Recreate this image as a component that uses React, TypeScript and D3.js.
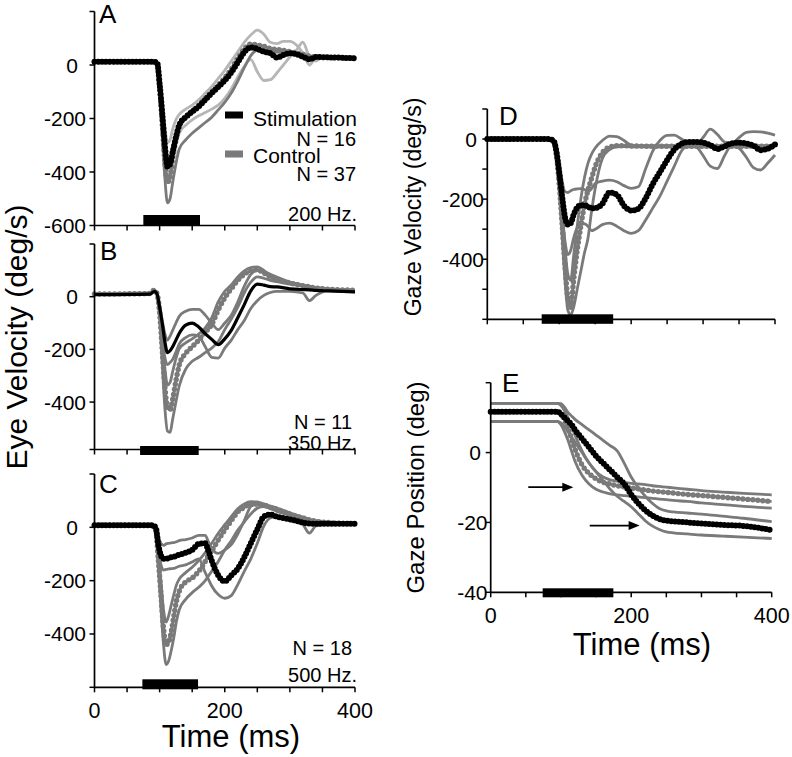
import React from 'react';
import * as d3 from 'd3';

const FONT = '"Liberation Sans", Arial, Helvetica, sans-serif';

// ---------- Panel A (200 Hz) ----------
const aT = [0, 90, 96, 100, 104, 108, 112, 116, 120, 125, 130, 140, 150, 160, 170, 180, 190, 200, 210, 220, 230, 240, 250, 260, 270, 280, 290, 300, 310, 320, 330, 340, 350, 370, 400];
const aStim = [12, 12, 10, -70, -180, -300, -380, -370, -325, -270, -225, -195, -175, -155, -130, -105, -82, -58, -28, 10, 48, 66, 60, 50, 44, 28, 37, 44, 40, 31, 21, 30, 29, 28, 25];
const aStimHi = [14, 14, 12, -50, -130, -230, -290, -280, -240, -205, -185, -165, -150, -130, -105, -80, -50, -20, 15, 50, 85, 112, 130, 115, 85, 80, 88, 88, 75, 45, 0, 28, 30, 28, 26];
const aStimLo = [12, 12, 8, -75, -200, -340, -420, -410, -360, -300, -255, -225, -205, -190, -178, -165, -150, -125, -90, -45, -5, 20, -25, -58, -55, -30, 0, 30, 55, 85, 30, 15, 28, 27, 25];
const aCtrl = [12, 12, 8, -80, -220, -360, -440, -420, -350, -280, -230, -195, -172, -150, -125, -100, -75, -48, -15, 25, 60, 78, 75, 70, 62, 58, 55, 50, 45, 40, 33, 30, 28, 27, 25];
const aCtrlLo = [10, 10, 5, -90, -260, -420, -515, -500, -440, -370, -315, -280, -255, -235, -215, -195, -168, -140, -105, -60, -10, 35, 55, 55, 50, 48, 47, 45, 40, 35, 30, 28, 27, 26, 24];

// ---------- Panel B (350 Hz) ----------
const bT = [0, 85, 92, 96, 100, 104, 108, 112, 116, 120, 125, 130, 140, 150, 160, 170, 180, 190, 200, 210, 220, 230, 240, 250, 260, 270, 280, 300, 320, 330, 340, 360, 380, 400];
const bStim = [8, 10, 20, 10, -40, -100, -170, -212, -205, -190, -165, -140, -108, -100, -115, -140, -162, -182, -160, -128, -80, -30, 22, 48, 44, 38, 37, 30, 27, 26, 24, 22, 20, 18];
const bStimHi = [10, 12, 22, 12, -30, -90, -140, -165, -150, -128, -100, -75, -55, -48, -48, -70, -100, -125, -100, -70, -20, 40, 85, 100, 95, 85, 75, 55, 40, 33, 30, 26, 23, 20];
const bStimLo = [8, 10, 20, 8, -60, -150, -230, -258, -250, -238, -210, -180, -155, -145, -150, -190, -230, -233, -195, -165, -125, -90, -45, -15, 5, 16, 20, 20, 14, -15, 5, 22, 20, 18];
const bCtrl = [10, 12, 25, 12, -60, -200, -340, -420, -430, -390, -320, -260, -215, -190, -165, -135, -105, -50, -5, 30, 62, 85, 98, 102, 90, 75, 65, 52, 42, 38, 33, 28, 26, 24];
const bCtrlHi = [12, 14, 24, 12, -50, -160, -270, -335, -325, -285, -235, -198, -175, -160, -142, -118, -80, -20, 20, 45, 75, 98, 110, 113, 100, 80, 70, 55, 44, 40, 35, 30, 27, 24];
const bCtrlLo = [8, 10, 22, 8, -80, -250, -420, -510, -515, -465, -400, -340, -275, -245, -230, -212, -195, -170, -125, -85, -40, 15, 55, 75, 70, 62, 57, 48, 40, 35, 31, 27, 24, 22];

// ---------- Panel C (500 Hz) ----------
const cT = [0, 88, 94, 98, 102, 106, 110, 114, 118, 122, 126, 130, 140, 150, 160, 170, 175, 180, 190, 200, 210, 220, 230, 240, 250, 260, 270, 280, 300, 320, 330, 340, 360, 380, 400];
const cStim = [8, 8, 0, -65, -105, -118, -118, -115, -112, -110, -106, -103, -95, -85, -62, -60, -90, -125, -180, -203, -180, -155, -112, -60, -8, 40, 48, 40, 30, 18, 14, 13, 13, 13, 13];
const cStimHi = [10, 10, 2, -35, -60, -68, -62, -60, -58, -57, -54, -50, -46, -40, -30, -30, -55, -80, -98, -85, -65, -25, 25, 78, 88, 80, 70, 60, 45, 28, 22, 20, 18, 16, 15];
const cStimLo = [6, 6, -5, -80, -140, -160, -158, -156, -155, -154, -150, -146, -141, -130, -118, -170, -195, -220, -252, -266, -256, -215, -165, -118, -60, 5, 35, 40, 30, 10, -22, 5, 12, 12, 12];
const cCtrl = [8, 8, -10, -120, -250, -380, -440, -430, -390, -330, -275, -240, -205, -190, -165, -128, -105, -88, -48, -10, 25, 58, 75, 87, 87, 84, 75, 68, 50, 35, 28, 23, 18, 15, 14];
const cCtrlHi = [10, 10, -5, -90, -200, -310, -355, -330, -290, -250, -215, -195, -170, -150, -125, -95, -78, -60, -22, 10, 40, 70, 88, 96, 95, 88, 80, 72, 54, 38, 30, 25, 20, 16, 15];
const cCtrlLo = [6, 6, -15, -150, -300, -440, -515, -500, -460, -410, -350, -310, -270, -245, -225, -200, -182, -165, -128, -85, -50, -10, 20, 50, 72, 78, 72, 65, 48, 33, 27, 22, 17, 15, 14];

// ---------- Panel D (gaze velocity) ----------
const dT = [0, 85, 92, 96, 100, 104, 108, 112, 116, 120, 125, 130, 135, 140, 145, 150, 160, 170, 180, 190, 200, 210, 220, 230, 240, 250, 260, 270, 280, 290, 300, 310, 320, 330, 340, 350, 360, 370, 380, 390, 400];
const dStim = [0, 0, -5, -40, -110, -190, -260, -285, -280, -252, -228, -220, -220, -225, -230, -230, -215, -178, -185, -222, -238, -232, -198, -150, -110, -70, -35, -16, -10, -10, -12, -20, -33, -24, -14, -12, -15, -22, -37, -32, -18];
const dStimHi = [2, 2, -3, -30, -80, -140, -175, -178, -172, -168, -166, -165, -168, -175, -165, -148, -140, -137, -142, -155, -164, -159, -100, -40, -5, 12, 13, 0, -15, -20, 5, 33, 15, -10, -15, 5, 22, 25, 24, 20, 13];
const dStimLo = [-2, -2, -8, -50, -140, -250, -340, -385, -370, -330, -295, -283, -282, -290, -305, -300, -285, -280, -290, -305, -314, -305, -270, -230, -190, -140, -90, -40, -20, -25, -55, -90, -98, -55, -20, -30, -60, -95, -103, -80, -53];
const dCtrl = [0, 0, -5, -50, -150, -280, -420, -530, -560, -470, -370, -290, -220, -170, -130, -92, -45, -27, -22, -22, -23, -23, -24, -24, -24, -24, -24, -24, -24, -24, -24, -24, -24, -24, -24, -24, -24, -24, -24, -24, -24];
const dCtrlHi = [2, 2, -3, -40, -120, -230, -360, -450, -470, -390, -290, -200, -130, -80, -50, -30, -5, 10, 8, -5, -20, -22, -22, -22, -22, -22, -22, -22, -22, -22, -22, -22, -22, -22, -22, -22, -22, -22, -22, -22, -22];
const dCtrlLo = [-2, -2, -8, -60, -170, -320, -470, -570, -585, -560, -500, -440, -380, -330, -240, -165, -65, -35, -26, -25, -26, -26, -26, -26, -26, -26, -26, -26, -26, -26, -26, -26, -26, -26, -26, -26, -26, -26, -26, -26, -26];

// ---------- Panel E (gaze position) ----------
const eT = [0, 95, 100, 105, 110, 115, 120, 130, 140, 150, 160, 170, 180, 190, 200, 210, 220, 230, 240, 250, 260, 280, 300, 330, 360, 400];
const eStim = [11.7, 11.7, 11, 10, 9, 8, 6.5, 4, 1.5, -1, -3, -5, -7, -9, -12, -14.5, -16.5, -18, -19, -19.5, -19.7, -20, -20.3, -20.7, -21, -22.2];
const eStimHi = [14.1, 14.1, 14, 13, 11.5, 10.5, 9.5, 8, 6.5, 5, 3.5, 2, 0.5, -3, -7, -10, -12.5, -14.5, -16, -16.7, -17, -17.3, -17.6, -18.2, -18.8, -19.8];
const eStimLo = [8.9, 8.9, 8.5, 7.5, 6, 4.5, 3, 0, -3, -5.5, -8, -10.5, -12.5, -14, -15.5, -17.5, -19.5, -21, -22, -22.7, -23, -23.3, -23.6, -23.9, -24.2, -24.6];
const eCtrl = [11.7, 11.7, 11, 9.5, 7, 4, 1, -3.5, -6, -7.5, -8.5, -9, -9.5, -9.8, -10.1, -10.4, -10.7, -11, -11.2, -11.4, -11.6, -12, -12.3, -12.8, -13.3, -14];
const eCtrlHi = [14.1, 14.1, 13.5, 12, 10, 7.5, 5, 0.5, -3, -5.5, -7, -7.8, -8.2, -8.5, -8.8, -9, -9.2, -9.5, -9.7, -9.9, -10.1, -10.5, -10.9, -11.3, -11.7, -12.1];
const eCtrlLo = [8.9, 8.9, 8, 6, 3.5, 0.5, -2.5, -6.5, -9, -10.5, -11.3, -11.8, -12.1, -12.3, -12.5, -12.7, -12.9, -13.1, -13.3, -13.5, -13.7, -14, -14.4, -14.9, -15.4, -15.9];
// arrows in E: [t0, t1, value]
const eArrows = [[53.5, 117.6, -9.9], [141, 212, -20.9]];

// Stimulation bars (ms)
const stimA = [75, 162];
const stimB = [70, 160];
const stimC = [73.5, 159];
const stimD = [75.6, 175];
const stimE = [74, 174.6];

const xTicks = [0, 50, 100, 150, 200, 250, 300, 350, 400];
const xTickLabels = [0, 200, 400];

const GRAY = '#7a7a7a';
const LIGHT = '#b6b6b6';

type Series = { v: number[]; kind: 'sd' | 'light' | 'ctrl' | 'stim' | 'stimSolid' };

type PanelProps = {
  t: number[];
  series: Series[];
  x: d3.ScaleLinear<number, number>;
  y: d3.ScaleLinear<number, number>;
  yTicks: number[];
  yLabels: number[];
  yLabelEnd: number;
  yZeroEnd: number;
  stim: number[];
  barTop: number;
  barH: number;
  showXLabels: boolean;
  letter: string;
  letterX: number;
  letterY: number;
};

function Panel(p: PanelProps) {
  const { x, y, t } = p;
  const [d0, d1] = y.domain();
  const yBot = y(d0);
  const yTop = y(d1);
  const x0 = x(0);
  const x1 = x(400);
  const mk = (vs: number[]) =>
    d3
      .line<number>()
      .x((_, i) => x(t[i]))
      .y((d) => y(d))
      .curve(d3.curveMonotoneX)(vs) || '';
  const order = { light: 0, sd: 1, ctrl: 2, stimSolid: 3, stim: 4 } as const;
  const sorted = [...p.series].sort((a, b) => order[a.kind] - order[b.kind]);
  return (
    <g>
      {sorted.map((s, i) => {
        const d = mk(s.v);
        if (s.kind === 'sd' || s.kind === 'light')
          return <path key={i} d={d} fill="none" stroke={s.kind === 'sd' ? GRAY : LIGHT} strokeWidth={2.8} />;
        if (s.kind === 'ctrl')
          return (
            <g key={i}>
              <path d={d} fill="none" stroke={GRAY} strokeWidth={2.6} />
              <path d={d} fill="none" stroke={GRAY} strokeWidth={5.4} strokeDasharray="0 5" strokeLinecap="round" />
            </g>
          );
        if (s.kind === 'stimSolid') return <path key={i} d={d} fill="none" stroke="#000" strokeWidth={3.2} />;
        return (
          <g key={i}>
            <path d={d} fill="none" stroke="#000" strokeWidth={3.4} />
            <path d={d} fill="none" stroke="#000" strokeWidth={6} strokeDasharray="0 3.8" strokeLinecap="round" />
          </g>
        );
      })}
      {/* axes */}
      <line x1={x0} x2={x0} y1={yTop} y2={yBot} stroke="#000" strokeWidth={1.7} />
      <line x1={x0} x2={x1} y1={yBot} y2={yBot} stroke="#000" strokeWidth={1.7} />
      {p.yTicks.map((v) => (
        <line key={'yt' + v} x1={x0 - 5} x2={x0} y1={y(v)} y2={y(v)} stroke="#000" strokeWidth={1.5} />
      ))}
      {p.yLabels.map((v) => (
        <text
          key={'yl' + v}
          x={v === 0 ? p.yZeroEnd : p.yLabelEnd}
          y={y(v) + 7.5}
          textAnchor="end"
          fontSize={21}
          fontFamily={FONT}
        >
          {v}
        </text>
      ))}
      {xTicks.map((v) => (
        <line key={'xt' + v} x1={x(v)} x2={x(v)} y1={yBot} y2={yBot + 5} stroke="#000" strokeWidth={1.5} />
      ))}
      {p.showXLabels &&
        xTickLabels.map((v) => (
          <text key={'xl' + v} x={x(v)} y={yBot + 30.5} textAnchor="middle" fontSize={21.5} fontFamily={FONT}>
            {v}
          </text>
        ))}
      <rect x={x(p.stim[0])} width={x(p.stim[1]) - x(p.stim[0])} y={yBot + p.barTop} height={p.barH} fill="#000" />
      <text x={p.letterX} y={p.letterY} fontSize={26} fontFamily={FONT}>
        {p.letter}
      </text>
    </g>
  );
}

export default function App() {
  const xL = d3.scaleLinear().domain([0, 400]).range([94.5, 355]);
  const xD = d3.scaleLinear().domain([0, 400]).range([487.3, 775]);
  const xE = d3.scaleLinear().domain([0, 400]).range([490.7, 771.7]);
  const yA = d3.scaleLinear().domain([-600, 200]).range([225.5, 11.5]);
  const yB = d3.scaleLinear().domain([-580, 200]).range([449.5, 244]);
  const yC = d3.scaleLinear().domain([-600, 200]).range([687.3, 474]);
  const yD = d3.scaleLinear().domain([-600, 100]).range([319.3, 109]);
  const yE = d3.scaleLinear().domain([-40, 20]).range([592.3, 382.7]);

  const tsize = 20;
  return (
    <svg width={792} height={757} style={{ position: 'absolute', left: 0, top: 0, background: '#fff' }}>
      <rect width={792} height={757} fill="#fff" />
      <Panel
        t={aT}
        series={[
          { v: aStimHi, kind: 'light' },
          { v: aStimLo, kind: 'light' },
          { v: aCtrlLo, kind: 'sd' },
          { v: aCtrl, kind: 'ctrl' },
          { v: aStim, kind: 'stim' },
        ]}
        x={xL}
        y={yA}
        yTicks={[200, 0, -200, -400, -600]}
        yLabels={[0, -200, -400, -600]}
        yLabelEnd={86}
        yZeroEnd={78}
        stim={stimA}
        barTop={-10.5}
        barH={11}
        showXLabels={false}
        letter="A"
        letterX={99}
        letterY={23}
      />
      <Panel
        t={bT}
        series={[
          { v: bStimHi, kind: 'sd' },
          { v: bStimLo, kind: 'sd' },
          { v: bCtrlHi, kind: 'sd' },
          { v: bCtrlLo, kind: 'sd' },
          { v: bCtrl, kind: 'ctrl' },
          { v: bStim, kind: 'stimSolid' },
        ]}
        x={xL}
        y={yB}
        yTicks={[200, 0, -200, -400, -580]}
        yLabels={[0, -200, -400]}
        yLabelEnd={86}
        yZeroEnd={78}
        stim={stimB}
        barTop={-3.5}
        barH={9}
        showXLabels={false}
        letter="B"
        letterX={100}
        letterY={260}
      />
      <Panel
        t={cT}
        series={[
          { v: cStimHi, kind: 'sd' },
          { v: cStimLo, kind: 'sd' },
          { v: cCtrlHi, kind: 'sd' },
          { v: cCtrlLo, kind: 'sd' },
          { v: cCtrl, kind: 'ctrl' },
          { v: cStim, kind: 'stim' },
        ]}
        x={xL}
        y={yC}
        yTicks={[200, 0, -200, -400, -600]}
        yLabels={[0, -200, -400]}
        yLabelEnd={86}
        yZeroEnd={78}
        stim={stimC}
        barTop={-8}
        barH={10}
        showXLabels={true}
        letter="C"
        letterX={99}
        letterY={493}
      />
      <Panel
        t={dT}
        series={[
          { v: dStimHi, kind: 'sd' },
          { v: dStimLo, kind: 'sd' },
          { v: dCtrlHi, kind: 'sd' },
          { v: dCtrlLo, kind: 'sd' },
          { v: dCtrl, kind: 'ctrl' },
          { v: dStim, kind: 'stim' },
        ]}
        x={xD}
        y={yD}
        yTicks={[100, 0, -100, -200, -300, -400, -500, -600]}
        yLabels={[0, -200, -400]}
        yLabelEnd={484}
        yZeroEnd={477}
        stim={stimD}
        barTop={-5}
        barH={9.5}
        showXLabels={false}
        letter="D"
        letterX={499}
        letterY={125}
      />
      <Panel
        t={eT}
        series={[
          { v: eStimHi, kind: 'sd' },
          { v: eStimLo, kind: 'sd' },
          { v: eCtrlHi, kind: 'sd' },
          { v: eCtrlLo, kind: 'sd' },
          { v: eCtrl, kind: 'ctrl' },
          { v: eStim, kind: 'stim' },
        ]}
        x={xE}
        y={yE}
        yTicks={[20, 0, -20, -40]}
        yLabels={[0, -20, -40]}
        yLabelEnd={487.5}
        yZeroEnd={481}
        stim={stimE}
        barTop={-4}
        barH={9}
        showXLabels={true}
        letter="E"
        letterX={502}
        letterY={392}
      />

      {/* arrows in E */}
      {eArrows.map(([t0, t1, v], i) => {
        const xa = xE(t0);
        const xb = xE(t1);
        const yy = yE(v);
        return (
          <g key={'ar' + i}>
            <line x1={xa} x2={xb - 8} y1={yy} y2={yy} stroke="#000" strokeWidth={1.7} />
            <polygon points={`${xb},${yy} ${xb - 11},${yy - 4.5} ${xb - 11},${yy + 4.5}`} fill="#000" />
          </g>
        );
      })}

      {/* Legend and annotations in A */}
      <rect x={225} y={111.5} width={18} height={7} fill="#000" />
      <text x={253} y={125.5} fontSize={21} fontFamily={FONT}>Stimulation</text>
      <text x={356} y={145.5} textAnchor="end" fontSize={tsize} fontFamily={FONT}>N = 16</text>
      <rect x={225} y={150.5} width={18} height={7} fill={GRAY} />
      <text x={253} y={162.5} fontSize={21} fontFamily={FONT}>Control</text>
      <text x={356} y={180.5} textAnchor="end" fontSize={tsize} fontFamily={FONT}>N = 37</text>
      <text x={357} y={221} textAnchor="end" fontSize={tsize} fontFamily={FONT}>200 Hz.</text>

      <text x={352} y={429} textAnchor="end" fontSize={tsize} fontFamily={FONT}>N = 11</text>
      <text x={357} y={450} textAnchor="end" fontSize={tsize} fontFamily={FONT}>350 Hz.</text>
      <text x={352} y={655} textAnchor="end" fontSize={tsize} fontFamily={FONT}>N = 18</text>
      <text x={357} y={681.5} textAnchor="end" fontSize={tsize} fontFamily={FONT}>500 Hz.</text>

      {/* axis titles */}
      <text transform="translate(27,337) rotate(-90)" textAnchor="middle" fontSize={30} fontFamily={FONT}>
        Eye Velocity (deg/s)
      </text>
      <text transform="translate(421,207) rotate(-90)" textAnchor="middle" fontSize={23} fontFamily={FONT}>
        Gaze Velocity (deg/s)
      </text>
      <text transform="translate(424,487.5) rotate(-90)" textAnchor="middle" fontSize={24} fontFamily={FONT}>
        Gaze Position (deg)
      </text>
      <text x={231} y={747} textAnchor="middle" fontSize={31} fontFamily={FONT}>Time (ms)</text>
      <text x={642} y={655} textAnchor="middle" fontSize={31} fontFamily={FONT}>Time (ms)</text>
    </svg>
  );
}
